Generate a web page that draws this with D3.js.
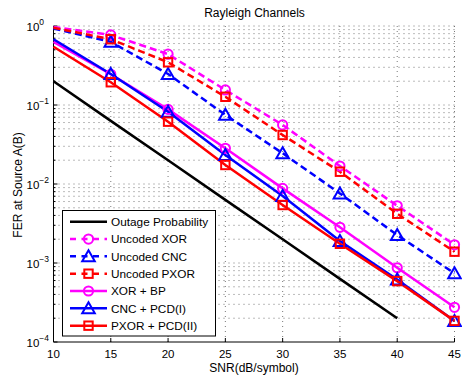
<!DOCTYPE html>
<html><head><meta charset="utf-8">
<script src="https://cdn.jsdelivr.net/npm/d3@7"></script>
<style>html,body{margin:0;padding:0;background:#fff;}svg{display:block;}</style>
</head><body>
<svg id="c" width="462" height="376"></svg>
<script>
const snr = [10, 15, 20, 25, 30, 35, 40, 45];
const outageSnr = [10, 15, 20, 25, 30, 35, 40];
const outage = [0.2, 0.063, 0.02, 0.0063, 0.002, 0.00063, 0.0002];
const uncodedXOR = [0.97, 0.77, 0.44, 0.155, 0.056, 0.0169, 0.0053, 0.0017];
const uncodedCNC = [0.93, 0.63, 0.247, 0.075, 0.0245, 0.0076, 0.00226, 0.00074];
const uncodedPXOR = [0.95, 0.68, 0.347, 0.127, 0.0417, 0.0143, 0.0042, 0.00139];
const xorBP = [0.63, 0.245, 0.088, 0.0283, 0.0088, 0.00283, 0.00087, 0.000275];
const cncPCD = [0.68, 0.247, 0.082, 0.0233, 0.00705, 0.0019, 0.00062, 0.000185];
const pxorPCD = [0.547, 0.194, 0.0615, 0.0174, 0.00542, 0.00175, 0.00059, 0.000185];
const xTicks = [10, 15, 20, 25, 30, 35, 40, 45];
const yExps = [0, -1, -2, -3, -4];
const legendLabels = ["Outage Probability", "Uncoded XOR", "Uncoded CNC", "Uncoded PXOR", "XOR + BP", "CNC + PCD(I)", "PXOR + PCD(II)"];

const series = [
  {name: legendLabels[0], x: outageSnr, y: outage, color: "#000000", dash: null, marker: null},
  {name: legendLabels[1], x: snr, y: uncodedXOR, color: "#ff00ff", dash: "7,4", marker: "circle"},
  {name: legendLabels[2], x: snr, y: uncodedCNC, color: "#0000ff", dash: "7,4", marker: "triangle"},
  {name: legendLabels[3], x: snr, y: uncodedPXOR, color: "#ff0000", dash: "7,4", marker: "square"},
  {name: legendLabels[4], x: snr, y: xorBP, color: "#ff00ff", dash: null, marker: "circle"},
  {name: legendLabels[5], x: snr, y: cncPCD, color: "#0000ff", dash: null, marker: "triangle"},
  {name: legendLabels[6], x: snr, y: pxorPCD, color: "#ff0000", dash: null, marker: "square"}
];

const L = 53.5, R = 454.5, T = 26, B = 342;
const x = d3.scaleLinear().domain([10, 45]).range([L, R]);
const y = d3.scaleLog().domain([1e-4, 1]).range([B, T]);
const svg = d3.select("#c");
const font = "'Liberation Sans', Arial, Helvetica, sans-serif";

// grid
const grid = svg.append("g").attr("stroke", "#555").attr("stroke-width", 0.8).attr("stroke-dasharray", "1,4");
xTicks.forEach(t => {
  if (t === 10) return;
  grid.append("line").attr("x1", x(t)).attr("x2", x(t)).attr("y1", B).attr("y2", T);
});
const minorVals = [];
for (let e = -4; e < 0; e++) for (let m = 1; m <= 9; m++) minorVals.push(m * Math.pow(10, e));
minorVals.push(1);
minorVals.forEach(v => {
  if (Math.abs(v - 1e-4) < 1e-9) return;
  grid.append("line").attr("x1", L).attr("x2", R).attr("y1", y(v)).attr("y2", y(v));
});

// axes
const ax = svg.append("g").attr("stroke", "#000").attr("stroke-width", 1);
ax.append("line").attr("x1", L).attr("x2", L).attr("y1", T).attr("y2", B);
ax.append("line").attr("x1", L).attr("x2", R).attr("y1", B).attr("y2", B);
xTicks.forEach(t => ax.append("line").attr("x1", x(t)).attr("x2", x(t)).attr("y1", B).attr("y2", B - 4));
minorVals.forEach(v => {
  const isMajor = Math.abs(Math.log10(v) - Math.round(Math.log10(v))) < 1e-9;
  ax.append("line").attr("x1", L).attr("x2", L + (isMajor ? 4 : 2)).attr("y1", y(v)).attr("y2", y(v));
});

// tick labels
svg.append("g").selectAll("text").data(xTicks).join("text")
  .attr("x", d => x(d)).attr("y", 358).attr("text-anchor", "middle")
  .attr("font-family", font).attr("font-size", 11.5).text(d => d);
const yl = svg.append("g");
yExps.forEach(e => {
  const t = yl.append("text").attr("x", 26.5).attr("y", y(Math.pow(10, e)) + 4.5)
    .attr("font-family", font).attr("font-size", 11.5);
  t.append("tspan").text("10");
  t.append("tspan").attr("dy", -6).attr("font-size", 8.5).text(e === 0 ? "0" : "\u2212" + Math.abs(e));
});

// titles
svg.append("text").attr("x", 254.5).attr("y", 17).attr("text-anchor", "middle")
  .attr("font-family", font).attr("font-size", 12).text("Rayleigh Channels");
svg.append("text").attr("x", 254).attr("y", 371.5).attr("text-anchor", "middle")
  .attr("font-family", font).attr("font-size", 12).text("SNR(dB/symbol)");
svg.append("text").attr("transform", "translate(21.5,185) rotate(-90)").attr("text-anchor", "middle")
  .attr("font-family", font).attr("font-size", 12).text("FER at Source A(B)");

function drawMarker(g, type, cx, cy, color) {
  if (type === "circle") {
    g.append("circle").attr("cx", cx).attr("cy", cy).attr("r", 4.6)
      .attr("fill", "none").attr("stroke", color).attr("stroke-width", 2);
  } else if (type === "triangle") {
    const w = 6.3, h = 5.5;
    g.append("path").attr("d", `M${cx},${cy - h - 0.5}L${cx + w},${cy + h - 0.5}L${cx - w},${cy + h - 0.5}Z`)
      .attr("fill", "none").attr("stroke", color).attr("stroke-width", 2).attr("stroke-linejoin", "miter");
  } else if (type === "square") {
    const s = 4.2;
    g.append("rect").attr("x", cx - s).attr("y", cy - s).attr("width", 2 * s).attr("height", 2 * s)
      .attr("fill", "none").attr("stroke", color).attr("stroke-width", 2);
  }
}

// lines
const line = d3.line().x(d => x(d[0])).y(d => y(d[1]));
const plot = svg.append("g");
series.forEach(s => {
  const pts = s.x.map((v, i) => [v, s.y[i]]);
  const p = plot.append("path").attr("d", line(pts)).attr("fill", "none")
    .attr("stroke", s.color).attr("stroke-width", 2.5);
  if (s.dash) p.attr("stroke-dasharray", s.dash);
});
series.forEach(s => {
  if (!s.marker) return;
  s.x.forEach((v, i) => { if (v > 10) drawMarker(plot, s.marker, x(v), y(s.y[i]), s.color); });
});

// legend
const lg = svg.append("g");
lg.append("rect").attr("x", 62.5).attr("y", 210.5).attr("width", 153).attr("height", 125.5)
  .attr("fill", "#fff").attr("stroke", "#000").attr("stroke-width", 1);
series.forEach((s, i) => {
  const cy = 221.7 + i * 17.33;
  const l = lg.append("line").attr("x1", 70).attr("x2", 107).attr("y1", cy).attr("y2", cy)
    .attr("stroke", s.color).attr("stroke-width", 2.5);
  if (s.dash) l.attr("stroke-dasharray", "6,5.5").attr("stroke-dashoffset", 0);
  if (s.marker) drawMarker(lg, s.marker, 88.5, cy, s.color);
  lg.append("text").attr("x", 111).attr("y", cy + 4.2).attr("font-family", font).attr("font-size", 11.8).text(s.name);
});
</script>
</body></html>
